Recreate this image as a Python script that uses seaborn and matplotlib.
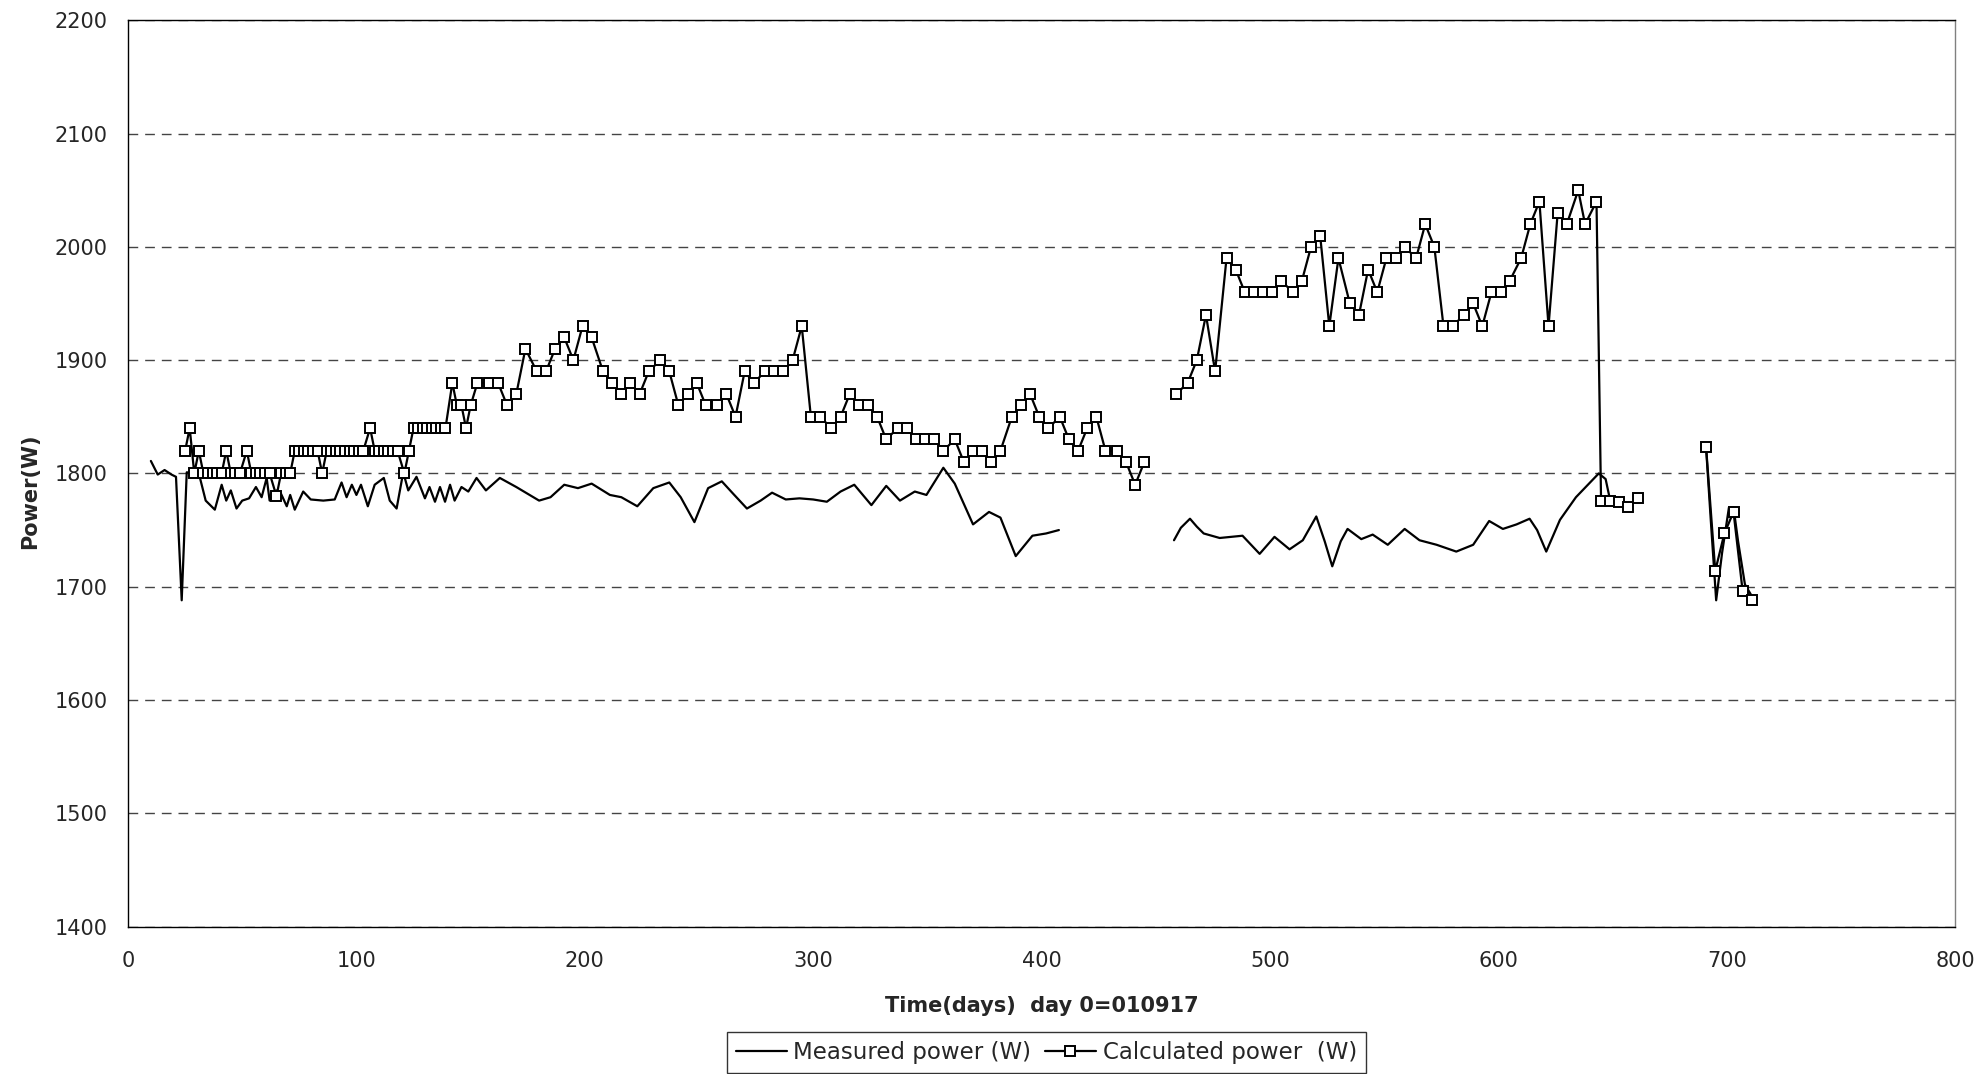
import numpy as np
import pandas as pd
from matplotlib import pyplot as plt
from matplotlib.lines import Line2D
import seaborn as sns

# measured power (W), three stretches separated by gaps in the record
meas_days_1 = [10, 13, 16, 19, 21, 23.5, 25.7, 29, 31, 34, 38, 41, 43, 45, 47.5, 50, 53, 56, 58.5,
               60.7, 62, 65, 67, 69.5, 71, 73, 76.7, 80, 85.5, 90.5, 93.5, 95.7, 98, 100, 102, 105,
               108, 112, 114.6, 117.6, 120.5, 122.7, 126.3, 130, 132, 134.4, 136.6, 138.8, 141, 143,
               146, 149, 152.6, 156.7, 162.8, 170, 180, 185, 191, 197, 203, 211, 216, 223, 230, 237,
               242, 248, 254, 260, 265, 271, 277, 282, 288, 294, 300, 306, 312, 318, 325.5, 332,
               338, 344.5, 349.6, 357, 362, 370, 377, 382, 388.7, 396, 402, 407.6]
meas_power_1 = [1811, 1799, 1803, 1799, 1797, 1688, 1801, 1800, 1800, 1776, 1768, 1790, 1776, 1785,
                1769, 1776, 1778, 1788, 1779, 1796, 1776, 1785, 1782, 1771, 1781, 1768, 1784, 1777,
                1776, 1777, 1792, 1779, 1790, 1781, 1790, 1771, 1790, 1796, 1776, 1769, 1801, 1785,
                1797, 1778, 1788, 1775, 1788, 1775, 1790, 1776, 1788, 1784, 1796, 1785, 1796, 1788,
                1776, 1779, 1790, 1787, 1791, 1781, 1779, 1771, 1787, 1792, 1779, 1757, 1787, 1793,
                1782, 1769, 1776, 1783, 1777, 1778, 1777, 1775, 1784, 1790, 1772, 1789, 1776, 1784,
                1781, 1805, 1791, 1755, 1766, 1761, 1727, 1745, 1747, 1750]
meas_days_2 = [458, 461, 465, 468, 471, 478, 488, 495.5, 502, 508.6, 514.4, 520.3, 524, 527.3, 531,
               534, 540, 545, 551.6, 559, 565.5, 573, 581.6, 589, 596, 602, 608, 613.7, 617, 621,
               624, 627, 634, 644, 647, 649]
meas_power_2 = [1741, 1752, 1760, 1753, 1747, 1743, 1745, 1729, 1744, 1733, 1741, 1762, 1740, 1718,
                1740, 1751, 1742, 1746, 1737, 1751, 1741, 1737, 1731, 1737, 1758, 1751, 1755, 1760,
                1750, 1731, 1745, 1759, 1779, 1800, 1795, 1776]
meas_days_3 = [691, 693, 695.4, 698, 701, 703, 705, 708, 711.5]
meas_power_3 = [1822, 1760, 1688, 1730, 1770, 1770, 1740, 1702, 1690]

# calculated power (W)
calc_days_1 = [25, 27, 29, 31, 33, 35, 37, 39, 41, 43, 45, 47, 49, 52, 54, 56, 58, 60, 62, 65, 67,
               69, 71, 73, 75, 77, 79, 81, 83, 85, 87, 89, 91, 93, 95, 97, 99, 101, 103, 106, 108,
               110, 112, 114, 116, 118, 121, 123, 125, 127, 129, 131, 133, 135, 137, 139, 142, 144,
               146, 148, 150, 153, 158, 162, 166, 170, 174, 179, 183, 187, 191, 195, 199, 203, 208,
               212, 216, 220, 224, 228, 233, 237, 241, 245, 249, 253, 258, 262, 266, 270, 274, 279,
               283, 287, 291, 295, 299, 303, 308, 312, 316, 320, 324, 328, 332, 337, 341, 345, 349,
               353, 357, 362, 366, 370, 374, 378, 382, 387, 391, 395, 399, 403, 408, 412, 416, 420,
               424, 428, 433, 437, 441, 445]
calc_power_1 = [1820, 1840, 1800, 1820, 1800, 1800, 1800, 1800, 1800, 1820, 1800, 1800, 1800, 1820,
                1800, 1800, 1800, 1800, 1800, 1780, 1800, 1800, 1800, 1820, 1820, 1820, 1820, 1820,
                1820, 1800, 1820, 1820, 1820, 1820, 1820, 1820, 1820, 1820, 1820, 1840, 1820, 1820,
                1820, 1820, 1820, 1820, 1800, 1820, 1840, 1840, 1840, 1840, 1840, 1840, 1840, 1840,
                1880, 1860, 1860, 1840, 1860, 1880, 1880, 1880, 1860, 1870, 1910, 1890, 1890, 1910,
                1920, 1900, 1930, 1920, 1890, 1880, 1870, 1880, 1870, 1890, 1900, 1890, 1860, 1870,
                1880, 1860, 1860, 1870, 1850, 1890, 1880, 1890, 1890, 1890, 1900, 1930, 1850, 1850,
                1840, 1850, 1870, 1860, 1860, 1850, 1830, 1840, 1840, 1830, 1830, 1830, 1820, 1830,
                1810, 1820, 1820, 1810, 1820, 1850, 1860, 1870, 1850, 1840, 1850, 1830, 1820, 1840,
                1850, 1820, 1820, 1810, 1790, 1810]
calc_days_2 = [459, 464, 468, 472, 476, 481, 485, 489, 493, 497, 501, 505, 510, 514, 518, 522, 526,
               530, 535, 539, 543, 547, 551, 555, 559, 564, 568, 572, 576, 580, 585, 589, 593, 597,
               601, 605, 610, 614, 618, 622, 626, 630, 635, 638, 643, 645, 649, 653, 657, 661]
calc_power_2 = [1870, 1880, 1900, 1940, 1890, 1990, 1980, 1960, 1960, 1960, 1960, 1970, 1960, 1970,
                2000, 2010, 1930, 1990, 1950, 1940, 1980, 1960, 1990, 1990, 2000, 1990, 2020, 2000,
                1930, 1930, 1940, 1950, 1930, 1960, 1960, 1970, 1990, 2020, 2040, 1930, 2030, 2020,
                2050, 2020, 2040, 1776, 1776, 1775, 1770, 1778]
calc_days_3 = [691, 695, 699, 703, 707, 711]
calc_power_3 = [1823, 1714, 1747, 1766, 1696, 1688]


def stack(parts):
    frames = [pd.DataFrame({'day': d, 'power': p, 'segment': i}) for i, (d, p) in enumerate(parts)]
    return pd.concat(frames, ignore_index=True)


meas = stack([(meas_days_1, meas_power_1), (meas_days_2, meas_power_2), (meas_days_3, meas_power_3)])
calc = stack([(calc_days_1, calc_power_1), (calc_days_2, calc_power_2), (calc_days_3, calc_power_3)])

sns.set_style('white')
# the original text is a wide Arial; DejaVu Sans gets closest to its proportions
plt.rcParams['font.family'] = ['DejaVu Sans']
fs = 15

fig, ax = plt.subplots(figsize=(19.82, 10.74), dpi=100)
fig.subplots_adjust(left=0.0646, right=0.9864, top=0.9811, bottom=0.1373)

ax.yaxis.grid(True, linestyle=(0, (7, 5)), color='#444444', linewidth=1.0)
ax.set_axisbelow(True)

sns.lineplot(data=meas, x='day', y='power', units='segment', estimator=None, sort=False,
             color='black', linewidth=1.6, ax=ax, legend=False)
sns.lineplot(data=calc, x='day', y='power', units='segment', estimator=None, sort=False,
             color='black', linewidth=1.6, marker='s', markersize=7.8, markerfacecolor='white',
             markeredgecolor='black', markeredgewidth=1.4, ax=ax, legend=False)

ax.set_xlim(0, 800)
ax.set_ylim(1400, 2200)
ax.set_xticks(range(0, 801, 100))
ax.set_yticks(range(1400, 2201, 100))
ax.tick_params(axis='both', labelsize=fs, direction='out', length=5.5, width=1, color='black')
ax.tick_params(axis='x', pad=12)
ax.tick_params(axis='y', pad=9)

for side in ['left', 'bottom', 'top']:
    ax.spines[side].set_color('black')
    ax.spines[side].set_linewidth(1.0)
ax.spines['right'].set_color('#808080')
ax.spines['right'].set_linewidth(1.0)

ax.set_xlabel('Time(days)  day 0=010917', fontsize=fs, fontweight='bold')
ax.set_ylabel('Power(W)', fontsize=fs, fontweight='bold')
ax.xaxis.set_label_coords(0.5, -0.077)
ax.yaxis.set_label_coords(-0.048, 0.48)

handles = [Line2D([], [], color='black', linewidth=1.6),
           Line2D([], [], color='black', linewidth=1.6, marker='s', markersize=7.8,
                  markerfacecolor='white', markeredgecolor='black', markeredgewidth=1.4)]
leg = fig.legend(handles, ['Measured power (W)', 'Calculated power  (W)'], loc='upper center',
                 bbox_to_anchor=(0.528, 0.039), ncol=2, fontsize=16.5, frameon=True, fancybox=False,
                 handlelength=2.2, columnspacing=0.6, handletextpad=0.3, borderpad=0.4,
                 borderaxespad=0)
leg.get_frame().set_edgecolor('black')
leg.get_frame().set_linewidth(1.0)

fig.savefig('out.png', dpi=100)
